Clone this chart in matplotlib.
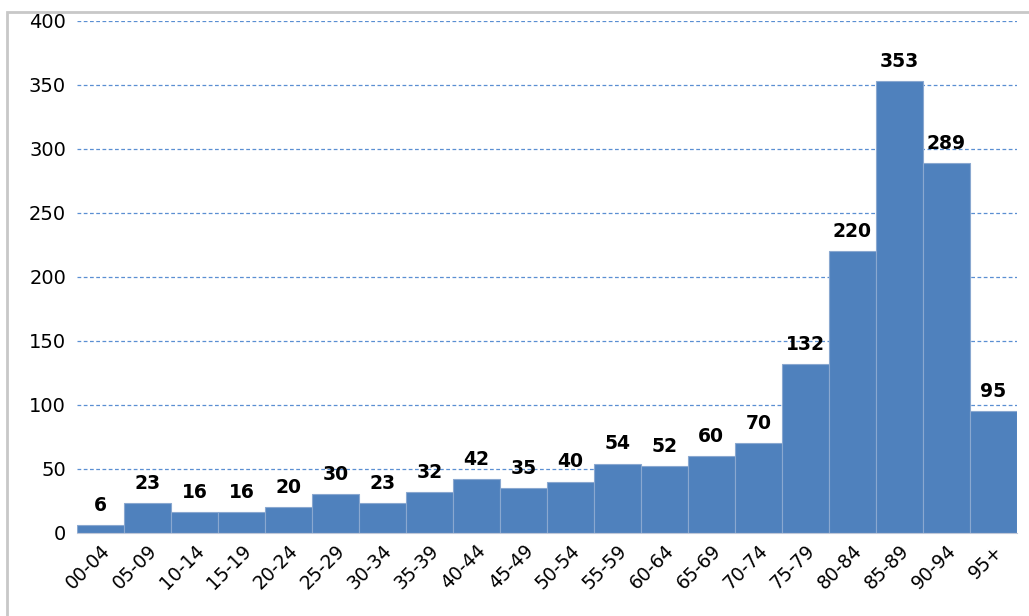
import numpy as np
import matplotlib.pyplot as plt
from matplotlib.patches import Rectangle

# Données
classes = ["00-04", "05-09", "10-14", "15-19", "20-24", "25-29", "30-34", "35-39",
           "40-44", "45-49", "50-54", "55-59", "60-64", "65-69", "70-74", "75-79",
           "80-84", "85-89", "90-94", "95+"]
valeurs = [6, 23, 16, 16, 20, 30, 23, 32, 42, 35, 40, 54, 52, 60, 70, 132, 220, 353, 289, 95]

bleu = "#4F81BD"

fig = plt.figure(figsize=(10.29, 6.16), dpi=100)
ax = fig.add_axes([0.075, 0.135, 0.913, 0.831])

# cadre gris autour du graphique
fig.patches.append(Rectangle((0.007, -0.02), 1.1, 1.0, transform=fig.transFigure,
                             fill=False, edgecolor="#c8c8c8", linewidth=2))

x = np.arange(len(classes))
ax.bar(x, valeurs, width=1.0, color=bleu, edgecolor="#8aa8d0", linewidth=0.8, zorder=2)

for xi, v in zip(x, valeurs):
    ax.text(xi, v + 8, str(v), ha="center", va="bottom", fontsize=13.5,
            fontweight="bold", color="black", zorder=3)

ax.set_ylim(0, 400)
ax.set_xlim(-0.5, len(classes) - 0.5)
ax.set_yticks(np.arange(0, 401, 50))
ax.set_xticks(x)
ax.set_xticklabels(classes, rotation=45, ha="right", rotation_mode="anchor", fontsize=13.5)
ax.tick_params(axis="y", labelsize=14, length=0, pad=8)
ax.tick_params(axis="x", length=0, pad=6)

ax.grid(axis="y", linestyle=(0, (3, 2)), color="#5a8fd2", linewidth=0.9, zorder=1)
ax.set_axisbelow(True)

for s in ["top", "right", "left"]:
    ax.spines[s].set_visible(False)
ax.spines["bottom"].set_color("#c0c8d8")

fig.savefig("out.png", dpi=100)
